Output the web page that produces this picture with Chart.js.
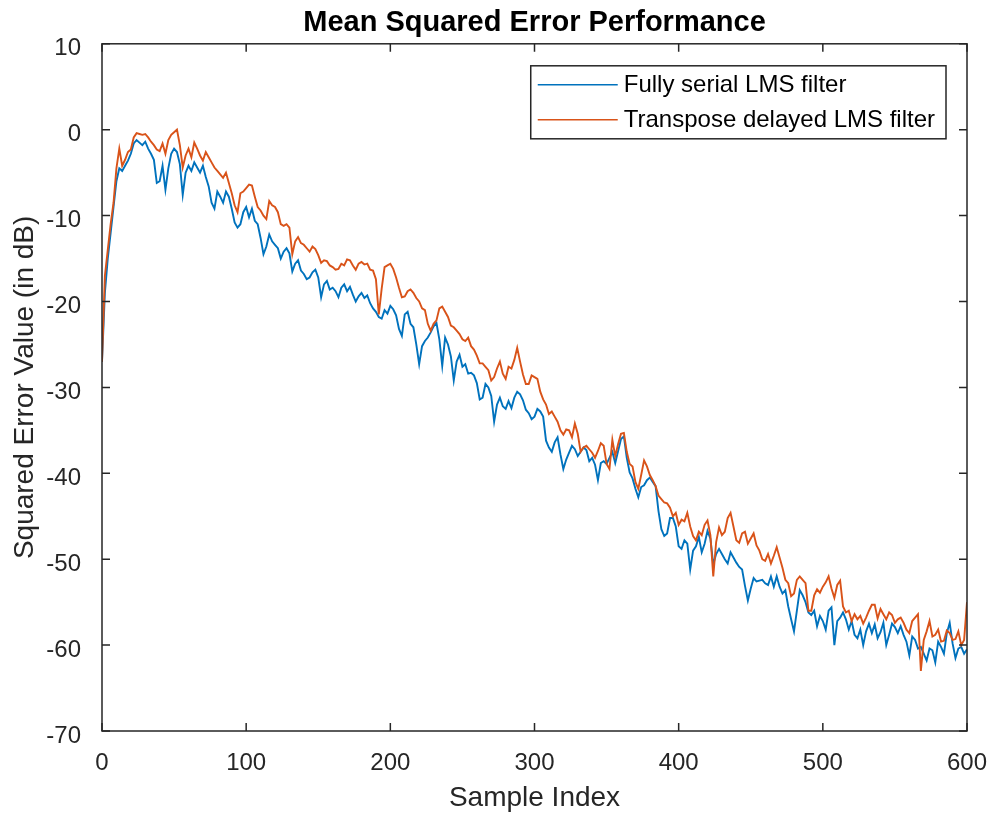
<!DOCTYPE html>
<html>
<head>
<meta charset="utf-8">
<script src="https://cdn.jsdelivr.net/npm/chart.js@4.4.0/dist/chart.umd.min.js"></script>
<style>
  html, body { margin: 0; padding: 0; background: #fff; }
  #wrap { width: 991px; height: 815px; }
</style>
</head>
<body>
<div id="wrap"><canvas id="mseChart" width="991" height="815"></canvas></div>
<script>
// error curves in dB, one value every 2 samples
const sampleStep = 2;
const serialMse = [
  -27, -19, -15, -12, -9, -6, -4.5, -4.8, -4.2, -3.6,
  -2.8, -1.6, -1.2, -1.5, -1.8, -1.4, -2.2, -2.8, -3.5, -6.2,
  -6, -4.2, -7, -4.5, -2.8, -2.2, -2.6, -4, -7.6, -5,
  -4.2, -4.8, -3.8, -4.4, -5, -4.2, -5.5, -6.6, -8.5, -9.2,
  -7.2, -7.8, -8.5, -7.2, -7.8, -9.2, -10.8, -11.4, -11, -9.6,
  -9, -10.2, -9.2, -10.6, -11, -12.6, -14.5, -13.6, -12.2, -13,
  -13.4, -13.8, -15, -14.2, -13.8, -14.4, -16.5, -15.6, -15.2, -16.4,
  -16.8, -17.4, -17.2, -16.6, -16.3, -17.2, -19.5, -18, -17.6, -18.6,
  -18.4, -18.8, -19.5, -18.4, -18, -18.8, -18.3, -19.2, -20, -19.4,
  -19, -19.6, -19.3, -20.2, -20.8, -21.2, -21.8, -22, -21, -21.4,
  -20.5, -20.9, -21.6, -23.2, -24, -21.5, -21.2, -22.6, -23, -25,
  -27.3, -25.2, -24.6, -24.2, -23.6, -22.9, -22.5, -24.4, -27.5, -24.2,
  -25, -26.4, -29.2, -27, -26.2, -27.6, -27.3, -28.4, -28.3, -28.6,
  -29.5, -31.4, -31.2, -29.6, -30, -31, -34, -32, -31.2, -32.2,
  -32.5, -31.6, -32.4, -31.2, -30.5, -30.8, -31.5, -32.6, -33, -33.7,
  -33.4, -32.5, -32.8, -33.4, -36.2, -37, -37.5, -36.4, -35.8, -37.8,
  -39.5, -38.4, -37.6, -36.8, -37.2, -38, -37.5, -37, -37.3, -38.6,
  -38.2, -39, -40.8, -38.8, -38.6, -38.9, -38.2, -37.5, -38.8, -37.4,
  -36, -35.7, -38.2, -39.9, -40.6, -41.8, -42.8, -41.6, -41.4, -40.8,
  -40.5, -41, -41.5, -44.4, -46.5, -47.3, -47, -45.2, -45.2, -46.2,
  -48.5, -48.8, -47.8, -48.2, -51.2, -49, -48.5, -47.4, -49.2, -48.2,
  -46.7, -47.6, -50.6, -49.4, -48.8, -49.4, -50, -50.5, -49.2, -49.8,
  -50.4, -50.9, -51.2, -53.1, -54.8, -53.4, -52.2, -52.6, -52.5, -52.4,
  -52.8, -53, -52, -53.2, -52, -53.2, -54, -53.6, -55.5, -57,
  -58.4, -56, -53.6, -54.2, -55, -56.2, -56.5, -56, -57.8, -56.6,
  -57.2, -58.2, -56, -55.6, -60, -57.2, -56.8, -56.2, -57, -58.2,
  -57.2, -58.8, -59.2, -58.2, -60, -58.4, -57.5, -58.6, -57.6, -59.2,
  -58.5, -57.4, -60, -58.8, -57.5, -57.9, -58.6, -57.8, -58.8, -59.6,
  -61.2, -59, -59.4, -60.4, -60.2, -61, -61.8, -60.4, -60.6, -62,
  -59.6, -60.2, -61, -58.6, -57.4, -59.8, -61.5, -60.4, -60.2, -61,
  -60.5
];
const transposeMse = [
  -27, -17, -14, -11, -8.5, -4.5, -2.2, -4.2, -3.5, -2.6,
  -2.3, -0.9, -0.4, -0.5, -0.6, -0.5, -0.9, -1.4, -1.8, -2.3,
  -2.5, -1.6, -2.8, -1.2, -0.6, -0.3, 0, -1.8, -4.4, -3,
  -2.2, -3.2, -1.5, -2.2, -3, -3.6, -2.6, -3.2, -3.8, -4.4,
  -4.8, -5.2, -5.6, -5, -6.2, -7.4, -8.8, -9.6, -7.4, -7.2,
  -6.8, -6.4, -6.5, -7.8, -9, -9.4, -10, -10.4, -8.3, -8.8,
  -9, -9.6, -11, -11.2, -11, -11.4, -14.5, -13, -12.5, -13.2,
  -13.4, -13.8, -14.2, -13.6, -13.9, -14.6, -15.5, -15.2, -15.3, -15.8,
  -16, -16.3, -16.2, -15.6, -15.8, -15.1, -15.2, -15.8, -16.3, -15.6,
  -15.4, -15.7, -15.6, -16.3, -16.4, -17.4, -21.5, -18.5, -16, -15.8,
  -15.6, -16.2, -17.2, -18.4, -19.5, -19.4, -18.8, -18.6, -19, -19.6,
  -20, -20.8, -21, -22.6, -23.4, -22.6, -22.2, -20.8, -20.6, -21.2,
  -21.8, -22.8, -23, -23.4, -23.8, -24.4, -24.6, -24.2, -25.2, -25.6,
  -26.3, -27.2, -27.2, -27.6, -28, -29.2, -28.8, -27.8, -27, -28.4,
  -29, -27.6, -27.8, -26.8, -25.4, -27, -28.5, -29.6, -29.6, -28.6,
  -28.8, -29, -30.5, -31.4, -32, -33.1, -32.8, -33.4, -34, -35,
  -35.5, -34.9, -35, -35.8, -34.2, -35.4, -37.5, -37, -36.8, -37.2,
  -37.6, -38.2, -37.4, -36.5, -36.8, -38.9, -39.5, -36.1, -38, -36.6,
  -35.4, -35.3, -37.5, -38.9, -39.2, -41, -41.8, -40.2, -38.5, -39.2,
  -40.2, -40.8, -41.5, -42.6, -43, -43.4, -43.5, -44, -45, -44.6,
  -46, -45.4, -45.6, -44.6, -46.2, -47.3, -47.8, -46.8, -47.2, -46,
  -45.5, -47.2, -52, -48, -46.3, -47.2, -46.8, -45.2, -44.6, -46.2,
  -47.8, -48.1, -47, -46.8, -48.2, -47.6, -47, -48.4, -49, -50,
  -50.2, -49.4, -50.5, -49.6, -48.6, -49.8, -51, -52.4, -52.8, -54.3,
  -54, -52.4, -52, -52.4, -52.8, -56, -56, -54.2, -53.5, -53.9,
  -53.2, -52.7, -52, -53.4, -54.5, -53, -52.5, -55.5, -56.2, -56,
  -57.2, -56.4, -57, -56.6, -57.5, -56.8, -56, -55.3, -55.3, -56.9,
  -55.8, -56.4, -57, -56.2, -56.5, -57.4, -57, -56.8, -57.4, -58.2,
  -58.6, -57.2, -56.8, -56.4, -63, -59.4, -58.4, -57.2, -59, -58.8,
  -58.2, -59.6, -59.5, -58.3, -58.6, -59.4, -59.3, -58.4, -60, -59.4,
  -55
];
const sampleIndex = serialMse.map((_, i) => i * sampleStep);
const xTicks = [0, 100, 200, 300, 400, 500, 600];
const yTicks = [10, 0, -10, -20, -30, -40, -50, -60, -70];
const seriesLabels = ['Fully serial LMS filter', 'Transpose delayed LMS filter'];
const seriesColors = ['#0072BD', '#D95319'];

const fontFamily = "'Liberation Sans', Arial, Helvetica, sans-serif";
const axisColor = '#262626';

// box around the plot with inward tick marks, like a matlab axes
const boxAxes = {
  id: 'boxAxes',
  afterDatasetsDraw(chart) {
    const { ctx, chartArea: a, scales } = chart;
    const tickLen = 8;
    ctx.save();
    ctx.strokeStyle = axisColor;
    ctx.lineWidth = 1.5;
    ctx.strokeRect(a.left, a.top, a.right - a.left, a.bottom - a.top);
    ctx.beginPath();
    xTicks.forEach(v => {
      const px = scales.x.getPixelForValue(v);
      ctx.moveTo(px, a.bottom); ctx.lineTo(px, a.bottom - tickLen);
      ctx.moveTo(px, a.top); ctx.lineTo(px, a.top + tickLen);
    });
    yTicks.forEach(v => {
      const py = scales.y.getPixelForValue(v);
      ctx.moveTo(a.left, py); ctx.lineTo(a.left + tickLen, py);
      ctx.moveTo(a.right, py); ctx.lineTo(a.right - tickLen, py);
    });
    ctx.stroke();
    ctx.restore();
  }
};

// legend box in the upper right corner of the plot
const boxLegend = {
  id: 'boxLegend',
  afterDraw(chart) {
    const { ctx, chartArea: a } = chart;
    const ds = chart.data.datasets;
    ctx.save();
    ctx.font = '24px ' + fontFamily;
    const textW = Math.max(...ds.map(d => ctx.measureText(d.label).width));
    const lineLen = 80, padL = 7, gap = 6, padR = 11, rowH = 35, padV = 19;
    const w = padL + lineLen + gap + textW + padR;
    const h = padV * 2 + rowH * (ds.length - 1);
    const right = a.right - 21;
    const left = right - w;
    const top = a.top + 22;
    ctx.fillStyle = '#fff';
    ctx.fillRect(left, top, w, h);
    ctx.strokeStyle = axisColor;
    ctx.lineWidth = 1.5;
    ctx.strokeRect(left, top, w, h);
    ds.forEach((d, i) => {
      const cy = top + padV + i * rowH;
      ctx.strokeStyle = d.borderColor;
      ctx.lineWidth = 1.6;
      ctx.beginPath();
      ctx.moveTo(left + padL, cy);
      ctx.lineTo(left + padL + lineLen, cy);
      ctx.stroke();
      ctx.fillStyle = '#000';
      ctx.textBaseline = 'middle';
      ctx.textAlign = 'left';
      ctx.fillText(d.label, left + padL + lineLen + gap, cy + 1);
    });
    ctx.restore();
  }
};

const ctx = document.getElementById('mseChart').getContext('2d');
const mseChart = new Chart(ctx, {
  type: 'line',
  data: {
    datasets: [
      {
        label: seriesLabels[0],
        data: sampleIndex.map((x, i) => ({ x: x, y: serialMse[i] })),
        borderColor: seriesColors[0],
        borderWidth: 1.9,
        pointRadius: 0,
        tension: 0,
        fill: false,
        order: 2
      },
      {
        label: seriesLabels[1],
        data: sampleIndex.map((x, i) => ({ x: x, y: transposeMse[i] })),
        borderColor: seriesColors[1],
        borderWidth: 1.9,
        pointRadius: 0,
        tension: 0,
        fill: false,
        order: 1
      }
    ]
  },
  options: {
    responsive: false,
    animation: false,
    devicePixelRatio: 1,
    layout: { padding: { left: 0, right: 24, top: 0, bottom: 0 } },
    plugins: {
      legend: { display: false },
      tooltip: { enabled: false },
      title: {
        display: true,
        text: 'Mean Squared Error Performance',
        fullSize: false,
        color: '#000',
        font: { family: fontFamily, size: 29, weight: 'bold', lineHeight: 1.2 },
        padding: { top: 6, bottom: 3 }
      }
    },
    scales: {
      x: {
        type: 'linear',
        min: 0,
        max: 600,
        afterBuildTicks: s => { s.ticks = xTicks.map(v => ({ value: v })); },
        afterFit: s => { s.height = 84; s.paddingLeft = 0; s.paddingRight = 0; },
        grid: { display: false },
        border: { display: false },
        ticks: {
          color: axisColor,
          padding: 10,
          maxRotation: 0,
          autoSkip: false,
          font: { family: fontFamily, size: 24 }
        },
        title: {
          display: true,
          text: 'Sample Index',
          color: axisColor,
          font: { family: fontFamily, size: 28, lineHeight: 1.2 },
          padding: { top: 0, bottom: 0 }
        }
      },
      y: {
        type: 'linear',
        min: -70,
        max: 10,
        afterBuildTicks: s => { s.ticks = yTicks.map(v => ({ value: v })); },
        afterFit: s => { s.width = 102; s.paddingTop = 0; s.paddingBottom = 0; },
        grid: { display: false },
        border: { display: false },
        ticks: {
          color: axisColor,
          padding: 13,
          labelOffset: 5,
          autoSkip: false,
          font: { family: fontFamily, size: 24 }
        },
        title: {
          display: true,
          text: 'Squared Error Value (in dB)',
          color: axisColor,
          font: { family: fontFamily, size: 28, lineHeight: 1.2 },
          padding: { top: 8, bottom: 0 }
        }
      }
    }
  },
  plugins: [boxAxes, boxLegend]
});
</script>
</body>
</html>
